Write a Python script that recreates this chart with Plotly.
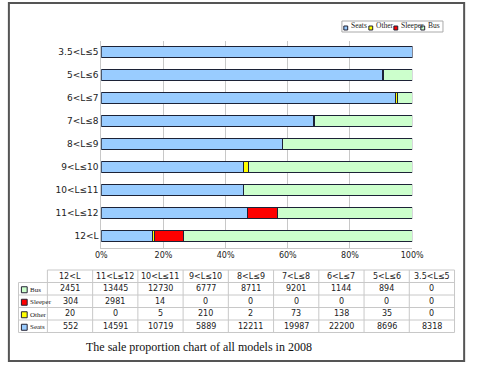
import plotly.graph_objects as go

categories = ["12<L", "11<L≤12", "10<L≤11", "9<L≤10", "8<L≤9",
              "7<L≤8", "6<L≤7", "5<L≤6", "3.5<L≤5"]
bus = [2451, 13445, 12730, 6777, 8711, 9201, 1144, 894, 0]
sleeper = [304, 2981, 14, 0, 0, 0, 0, 0, 0]
other = [20, 0, 5, 210, 2, 73, 138, 35, 0]
seats = [552, 14591, 10719, 5889, 12211, 19987, 22200, 8696, 8318]

series_names = ["Seats", "Other", "Sleeper", "Bus"]
series_vals = [seats, other, sleeper, bus]
colors = {"Seats": "#99ccff", "Other": "#ffff00", "Sleeper": "#ff0000", "Bus": "#ccffcc"}

W, H = 480, 365
def px(x):
    return x / W
def py(y):
    return 1 - y / H

fig = go.Figure()
for name, vals in zip(series_names, series_vals):
    fig.add_trace(go.Bar(
        y=categories, x=vals, name=name, orientation="h",
        marker=dict(color=colors[name], line=dict(color="#1c2236", width=1)),
        showlegend=False, hoverinfo="x+y+name",
    ))

fig.update_layout(
    width=W, height=H, margin=dict(l=0, r=0, t=0, b=0),
    paper_bgcolor="white", plot_bgcolor="white",
    barmode="stack", barnorm="percent", bargap=0.52,
    xaxis=dict(domain=[px(99), px(422)], range=[0, 100], dtick=20, ticksuffix="%",
               showgrid=True, gridcolor="#c8c8c8", gridwidth=1, zeroline=False,
               showline=True, linecolor="#c8c8c8", ticks="",
               tickfont=dict(family="DejaVu Sans", size=8, color="#222")),
    yaxis=dict(domain=[py(247.5), py(40.5)], range=[-0.5, 8.5], type="category",
               showgrid=False, showline=True, linecolor="#c8c8c8", ticks="",
               tickfont=dict(family="DejaVu Sans", size=9, color="#222")),
    font=dict(family="DejaVu Sans"),
)

shapes = []
annots = []

# ---- data table drawn with shapes + annotations ----
row_names = ["Bus", "Sleeper", "Other", "Seats"]
row_vals = {"Bus": bus, "Sleeper": sleeper, "Other": other, "Seats": seats}
tab_left, first_w, col_w = 13, 30, 47
tab_top, row_h = 270, 12.5
n_cols = len(categories)
n_rows = len(row_names)
x_edges = [tab_left, tab_left + first_w] + [tab_left + first_w + col_w * (k + 1) for k in range(n_cols)]
y_edges = [tab_top + row_h * k for k in range(n_rows + 2)]
grid = dict(color="#c8c8c8", width=1)
for k, yy in enumerate(y_edges):
    x0 = x_edges[1] if k == 0 else x_edges[0]
    shapes.append(dict(type="line", xref="paper", yref="paper", x0=px(x0), x1=px(x_edges[-1]),
                       y0=py(yy), y1=py(yy), line=grid))
for k, xx in enumerate(x_edges):
    y0 = y_edges[1] if k == 0 else y_edges[0]
    shapes.append(dict(type="line", xref="paper", yref="paper", x0=px(xx), x1=px(xx),
                       y0=py(y0), y1=py(y_edges[-1]), line=grid))
cell_font = dict(family="DejaVu Sans", size=8, color="#222")
for i, c in enumerate(categories):
    xc = (x_edges[i + 1] + x_edges[i + 2]) / 2
    yc = (y_edges[0] + y_edges[1]) / 2
    annots.append(dict(xref="paper", yref="paper", x=px(xc), y=py(yc), text=c,
                       showarrow=False, xanchor="center", yanchor="middle", font=cell_font))
for r, rn in enumerate(row_names):
    ytop = y_edges[r + 1]
    yc = ytop + row_h / 2
    shapes.append(dict(type="rect", xref="paper", yref="paper",
                       x0=px(tab_left + 3), x1=px(tab_left + 9),
                       y0=py(yc + 4), y1=py(yc - 2),
                       fillcolor=colors[rn], line=dict(color="#223", width=1)))
    annots.append(dict(xref="paper", yref="paper", x=px(tab_left + 10), y=py(ytop + 1),
                       text=rn, showarrow=False, xanchor="left", yanchor="top",
                       font=dict(family="Liberation Serif", size=7, color="#222")))
    for i in range(n_cols):
        xc = (x_edges[i + 1] + x_edges[i + 2]) / 2
        annots.append(dict(xref="paper", yref="paper", x=px(xc), y=py(yc),
                           text=str(row_vals[rn][i]), showarrow=False,
                           xanchor="center", yanchor="middle", font=cell_font))

# frame
shapes.append(dict(type="rect", xref="paper", yref="paper",
                   x0=px(3), x1=px(476), y0=py(361), y1=py(3),
                   line=dict(color="#555", width=2), layer="below"))
# legend box with outlined swatches
lg_left, lg_right, lg_top, lg_bot = 349, 454, 21, 32
shapes.append(dict(type="rect", xref="paper", yref="paper",
                   x0=px(lg_left), x1=px(lg_right), y0=py(lg_bot), y1=py(lg_top),
                   line=dict(color="#aaa", width=1)))
lg_x = [lg_left + 2, lg_left + 28, lg_left + 54, lg_left + 82]
for xx, n in zip(lg_x, series_names):
    shapes.append(dict(type="rect", xref="paper", yref="paper",
                       x0=px(xx), x1=px(xx + 4), y0=py(lg_bot - 2), y1=py(lg_bot - 6),
                       fillcolor=colors[n], line=dict(color="#223", width=1)))
    annots.append(dict(xref="paper", yref="paper", x=px(xx + 5), y=py(lg_top + 4),
                       text=n, showarrow=False, xanchor="left", yanchor="middle",
                       font=dict(family="Liberation Serif", size=7.5, color="#222")))
# caption
annots.append(dict(xref="paper", yref="paper", x=px(200), y=py(347),
                   text="The sale proportion chart of all models in 2008", showarrow=False,
                   xanchor="center", yanchor="middle",
                   font=dict(family="Liberation Serif", size=12, color="#111")))

fig.update_layout(shapes=shapes, annotations=annots)

fig.write_html("out.html", config={"displayModeBar": False},
               post_script="document.body.style.margin='0';document.body.style.overflow='hidden';")
